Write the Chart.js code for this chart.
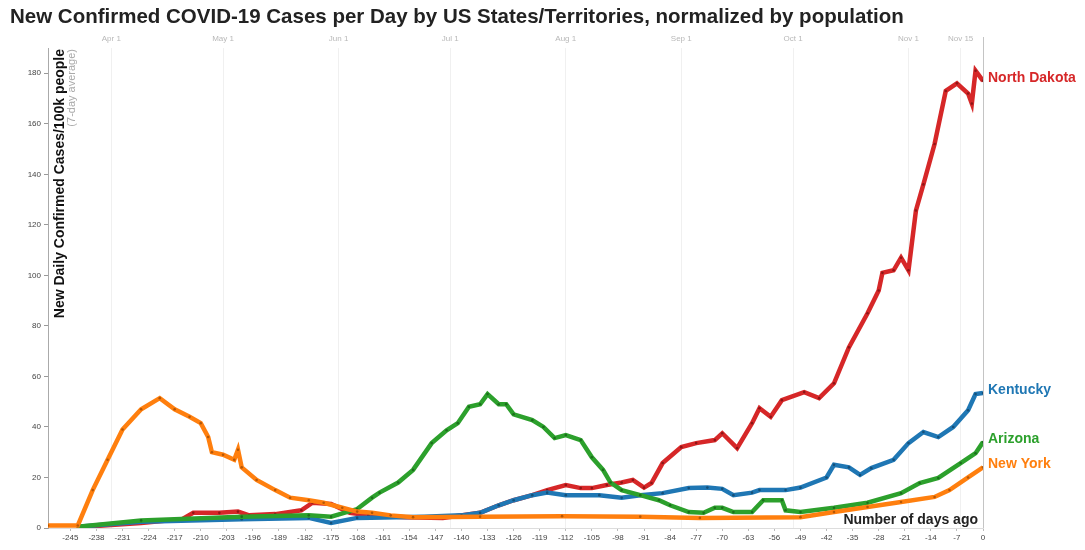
<!DOCTYPE html>
<html>
<head>
<meta charset="utf-8">
<script src="https://cdn.jsdelivr.net/npm/chart.js@4/dist/chart.umd.min.js"></script>
<style>
html,body{margin:0;padding:0;background:#fff;}
canvas{display:block;}
</style>
</head>
<body>
<canvas id="c" width="1085" height="550"></canvas>
<script>
const chartTitle = 'New Confirmed COVID-19 Cases per Day by US States/Territories, normalized by population';
const yTitle = 'New Daily Confirmed Cases/100k people';
const ySubTitle = '(7-day average)';
const xTitle = 'Number of days ago';

const xTicks = [-245,-238,-231,-224,-217,-210,-203,-196,-189,-182,-175,-168,-161,-154,-147,-140,-133,-126,-119,-112,-105,-98,-91,-84,-77,-70,-63,-56,-49,-42,-35,-28,-21,-14,-7,0];
const yTicks = [0,20,40,60,80,100,120,140,160,180];
const monthDays = [-234,-204,-173,-143,-112,-81,-51,-20,-6];
const monthLabels = ['Apr 1','May 1','Jun 1','Jul 1','Aug 1','Sep 1','Oct 1','Nov 1','Nov 15'];

const seriesNames = ['North Dakota','Kentucky','Arizona','New York'];

const ndDays = [-243,-226,-215,-212,-205,-200,-197,-190,-183,-180,-175,-170,-165,-155,-145,-135,-130,-126,-121,-117,-112,-108,-105,-101,-97,-94,-91,-89,-86,-81,-77,-72,-70,-66,-62,-60,-57,-54,-48,-44,-40,-36,-31,-28,-27,-24,-22,-20,-18,-16,-13,-10,-7,-4,-3,-2,0];
const ndValues = [0.3,2,3.5,6,6,6.5,5,5.5,7,10,9.5,6,5,4.3,4,6,9,11,13,15,17,15.8,15.8,17,18,19,16,17.8,25.7,32,33.6,34.8,37.5,31.6,41.5,47.4,44,50.6,53.8,51.4,57.3,71.5,85,94,101,102,107,102,125.7,136,152,173,176,172,168,181,177];

const kyDays = [-243,-226,-199,-181,-175,-168,-150,-140,-135,-130,-126,-121,-117,-112,-103,-97,-92,-86,-79,-74,-70,-67,-62,-60,-53,-49,-42,-40,-36,-33,-30,-24,-20,-16,-12,-8,-4,-2,0];
const kyValues = [0.5,2.5,3.5,4,2,4,4.5,5,6,9,11,13,14,13,13,12,13,13.8,15.8,16,15.5,13,14,15,15,16,20,25,24,21,23.7,27,33.6,38,36,40,46.6,53,53.4];

const azDays = [-243,-226,-199,-181,-175,-168,-164,-162,-157,-153,-148,-144,-141,-138,-135,-133,-130,-128,-126,-121,-118,-115,-112,-108,-105,-102,-100,-97,-92,-87,-84,-79,-75,-72,-70,-67,-62,-59,-54,-53,-49,-40,-31,-22,-17,-12,-6,-2,0];
const azValues = [0.5,3,4.5,5,4.5,7.5,12,14,18,23,33.6,38.7,41.5,48,49,53,49,49,45,42.7,40,35.6,36.8,34.8,28,23,18,15,13,11,9,6.3,6,8,8,6.3,6.3,11,11,7,6.3,8,10,13.8,17.8,19.8,25.7,29.6,34];

const nyDays = [-251,-243,-239,-235,-231,-226,-221,-217,-213,-210,-208,-207,-204,-201,-200,-199,-195,-190,-186,-181,-177,-172,-168,-164,-159,-153,-135,-113,-92,-76,-49,-40,-31,-22,-13,-9,-4,0];
const nyValues = [1,1,15,27,39,47,51.4,47,44,41.5,36,30,29,27,31,24,19,15,12,11,10,8,6.5,6,5,4.3,4.5,4.7,4.5,4,4.3,6.3,8.3,10.3,12.3,15,20,24];

const colors = ['#d62728','#1f77b4','#2ca02c','#ff7f0e'];
const dotColors = ['#8e1516','#14507a','#1c6e1c','#b55706'];

function pts(d, v){ return d.map((x,i)=>({x:x, y:v[i]})); }
const allDays = [ndDays, kyDays, azDays, nyDays];
const allValues = [ndValues, kyValues, azValues, nyValues];

const FONT = '"Liberation Sans", Arial, sans-serif';

const datasets = seriesNames.map((name,i)=>({
  label: name,
  data: pts(allDays[i], allValues[i]),
  borderColor: colors[i],
  backgroundColor: colors[i],
  borderWidth: 4.5,
  pointRadius: 1.3,
  pointBorderWidth: 0,
  pointBackgroundColor: dotColors[i],
  tension: 0,
  order: 3 - i
}));

const decor = {
  id: 'decor',
  beforeDraw(chart){
    const ctx = chart.ctx;
    ctx.save();
    ctx.fillStyle = '#fff';
    ctx.fillRect(0,0,chart.width,chart.height);
    ctx.restore();
  },
  afterDraw(chart){
    const {ctx, chartArea} = chart;
    ctx.save();
    // title
    ctx.font = 'bold 20.5px ' + FONT;
    ctx.fillStyle = '#222';
    ctx.textAlign = 'left';
    ctx.textBaseline = 'middle';
    ctx.fillText(chartTitle, 10, 17);
    // right border
    ctx.strokeStyle = '#c4c4c4';
    ctx.lineWidth = 1;
    ctx.beginPath();
    ctx.moveTo(Math.round(chartArea.right)+0.5, 37);
    ctx.lineTo(Math.round(chartArea.right)+0.5, chartArea.bottom);
    ctx.stroke();
    // x title
    ctx.font = 'bold 14px ' + FONT;
    ctx.fillStyle = '#222';
    ctx.textAlign = 'right';
    ctx.textBaseline = 'middle';
    ctx.fillText(xTitle, chartArea.right - 5, chartArea.bottom - 8);
    // y titles
    ctx.save();
    ctx.translate(chartArea.left + 12, chartArea.top + 1);
    ctx.rotate(-Math.PI/2);
    ctx.textAlign = 'right';
    ctx.textBaseline = 'middle';
    ctx.font = 'bold 14px ' + FONT;
    ctx.fillStyle = '#111';
    ctx.fillText(yTitle, 0, 0);
    ctx.font = '11px ' + FONT;
    ctx.fillStyle = '#aaa';
    ctx.fillText(ySubTitle, 0, 12);
    ctx.restore();
    // series end labels
    ctx.font = 'bold 14px ' + FONT;
    ctx.textAlign = 'left';
    ctx.textBaseline = 'middle';
    chart.data.datasets.forEach((ds, i) => {
      const meta = chart.getDatasetMeta(i);
      const last = meta.data[meta.data.length - 1];
      ctx.fillStyle = colors[i];
      ctx.fillText(ds.label, last.x + 5, last.y - 3);
    });
    ctx.restore();
  }
};

new Chart(document.getElementById('c'), {
  type: 'line',
  data: { datasets: datasets },
  options: {
    responsive: false,
    devicePixelRatio: 1,
    animation: false,
    layout: { padding: { top: 30, right: 102, bottom: 0, left: 0 } },
    plugins: { legend: { display: false }, tooltip: { enabled: false }, title: { display: false } },
    scales: {
      x: {
        type: 'linear', position: 'bottom', min: -251, max: 0,
        afterBuildTicks: s => { s.ticks = xTicks.map(v => ({ value: v })); },
        afterFit: s => { s.height = 22; },
        ticks: { autoSkip: false, maxRotation: 0, font: { size: 8, family: FONT }, color: '#444', padding: 2 },
        grid: { drawOnChartArea: false, tickLength: 3, color: '#bbb' },
        border: { color: '#ddd' }
      },
      x2: {
        type: 'linear', position: 'top', min: -251, max: 0,
        afterBuildTicks: s => { s.ticks = monthDays.map(v => ({ value: v })); },
        afterFit: s => { s.height = 18; },
        ticks: { autoSkip: false, maxRotation: 0, font: { size: 8, family: FONT }, color: '#b8b8b8', padding: 4,
          callback: (v, i) => monthLabels[i] },
        grid: { drawOnChartArea: true, drawTicks: false, color: 'rgba(0,0,0,0.06)' },
        border: { display: false }
      },
      y: {
        type: 'linear', min: 0, max: 190,
        afterBuildTicks: s => { s.ticks = yTicks.map(v => ({ value: v })); },
        afterFit: s => { s.width = 48; },
        ticks: { font: { size: 8, family: FONT }, color: '#444', padding: 3 },
        grid: { drawOnChartArea: false, tickLength: 4, color: '#999' },
        border: { color: '#aaa' }
      }
    }
  },
  plugins: [decor]
});
</script>
</body>
</html>
